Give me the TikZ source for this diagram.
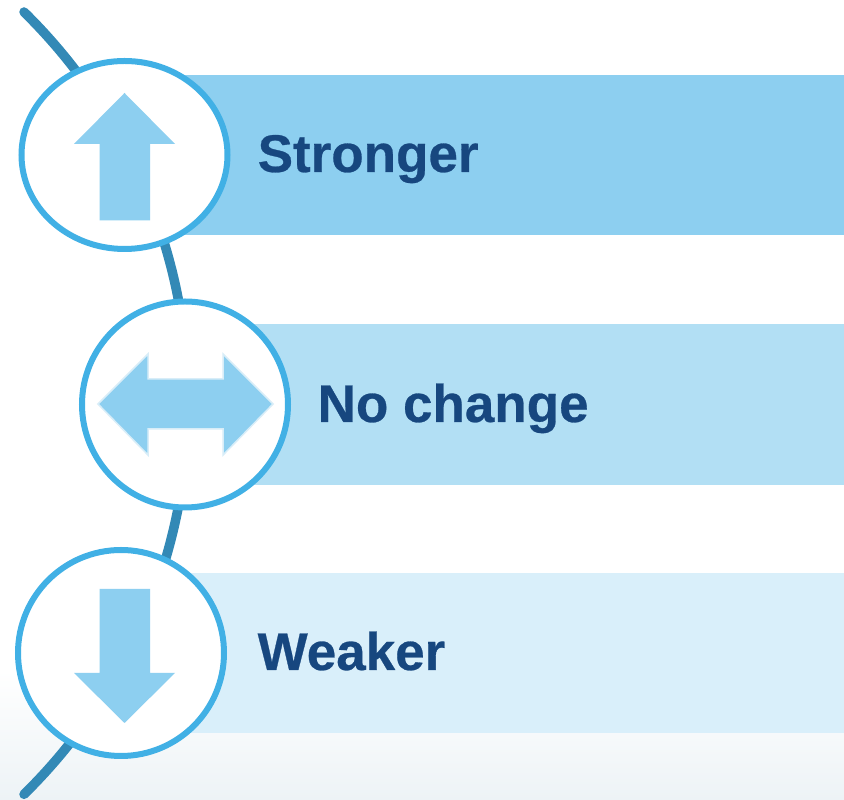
\documentclass[tikz,border=0pt]{standalone}
\usepackage{fontspec}
\setmainfont[BoldFeatures={FakeBold=0.5}]{Liberation Sans}
\usetikzlibrary{shapes.geometric}
\definecolor{bandA}{HTML}{8DCFF0}
\definecolor{bandB}{HTML}{B2DFF4}
\definecolor{bandC}{HTML}{D9EFFA}
\definecolor{ringblue}{HTML}{41B0E5}
\definecolor{curveblue}{HTML}{3389B6}
\definecolor{textblue}{HTML}{17477F}
\definecolor{glow}{HTML}{D8EDF8}
\definecolor{floorgrey}{HTML}{EDF3F6}
\tikzset{
  band/.style={draw=none},
  ring/.style={ellipse,draw=ringblue,line width=6pt,fill=white,inner sep=0pt,outer sep=0pt,minimum width=206pt,minimum height=206pt},
  label/.style={anchor=base west,inner sep=0pt,text=textblue,font=\fontsize{53}{60}\selectfont\bfseries},
  arrowshape/.style={fill=bandA,draw=none},
  spine/.style={draw=curveblue,line width=9.5pt,line cap=round}
}
\begin{document}
\begin{tikzpicture}[x=1pt,y=1pt]
\useasboundingbox (0,0) rectangle (844,800);
% page background fading at the bottom
\shade[top color=white,bottom color=floorgrey,draw=none] (0,0) rectangle (844,130);
% bands
\fill[band,bandA] (180,565) rectangle (844,725);
\fill[band,bandB] (240,315) rectangle (844,476);
\fill[band,bandC] (180,67) rectangle (844,227);
% spine
\coordinate (spinetop) at (24,788);
\draw[spine] (spinetop) arc[start angle=45.55,end angle=-45.55,radius=548];
% rings
\node[ring,minimum height=188pt,minimum width=206pt] (up) at (124.5,645) {};
\node[ring] (same) at (185,395.5) {};
\node[ring] (down) at (121,147) {};
% arrows
\fill[arrowshape] (124.5,707) -- (175,656) -- (150,656) -- (150,579.5) -- (99.5,579.5) -- (99.5,656) -- (74,656) -- cycle;
\filldraw[arrowshape,draw=glow,line width=1.5pt,line join=miter] (98,396) -- (148,446) -- (148,421) -- (223,421) -- (223,446) -- (273,396) -- (223,345) -- (223,371) -- (148,371) -- (148,345) -- cycle;
\fill[arrowshape] (124.5,77) -- (175,127) -- (150,127) -- (150,211) -- (99.5,211) -- (99.5,127) -- (74,127) -- cycle;
% labels
\node[label] (stronger) at (257.5,628) {Stronger};
\node[label] (nochange) at (317.5,378) {No change};
\node[label] (weaker) at (257.5,130) {Weaker};
\end{tikzpicture}
\end{document}
